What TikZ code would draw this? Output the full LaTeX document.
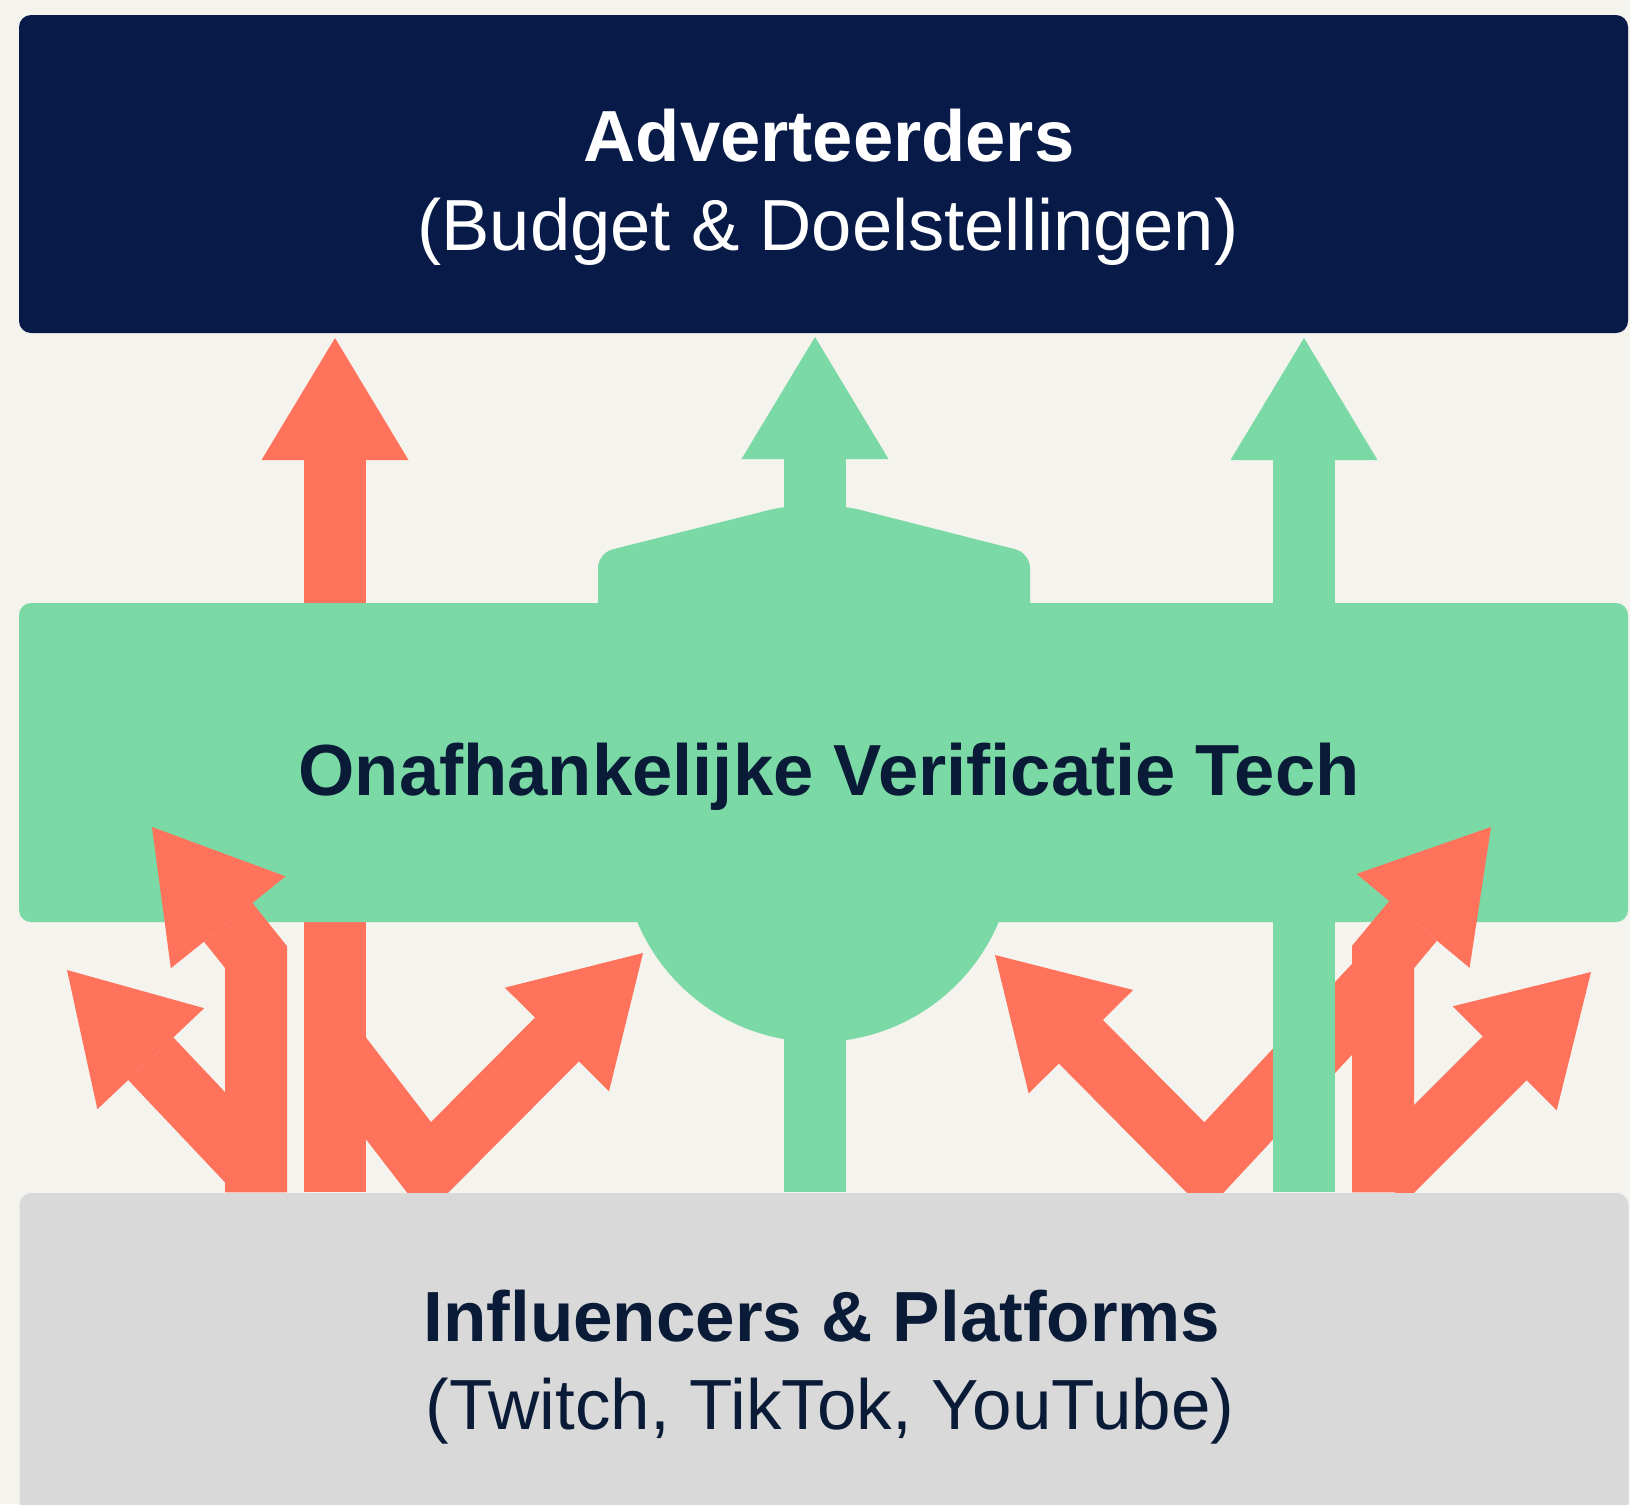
\documentclass[tikz,border=0pt]{standalone}
\usepackage{fontspec}
\setmainfont{Liberation Sans}
\usetikzlibrary{arrows.meta,positioning}
\definecolor{paper}{RGB}{244,243,238}
\definecolor{advnavy}{RGB}{8,26,72}
\definecolor{verifgreen}{RGB}{122,217,165}
\definecolor{flowred}{RGB}{255,115,92}
\definecolor{platgray}{RGB}{217,217,217}
\definecolor{inkblue}{RGB}{10,27,55}
\pgfdeclarelayer{front}
\pgfsetlayers{main,front}

\begin{document}
\begin{tikzpicture}[
  x=0.1mm, y=-0.1mm,
  >={Triangle[width=14.7mm, length=12.2mm, line width=0pt]},
  panel/.style={rectangle, rounded corners=1.2mm, inner sep=0pt,
    minimum width=160.9mm, minimum height=31.8mm},
  title/.style={font=\fontsize{20.6}{24}\selectfont\bfseries,
    anchor=base, inner sep=0pt},
  sub/.style={font=\fontsize{20.6}{24}\selectfont,
    anchor=base, inner sep=0pt},
  flow/.style={->, line width=6.2mm, line join=miter}
]
\useasboundingbox (0,0) rectangle (1630,1504);
\fill[paper] (0,0) rectangle (1630,1504);

\begin{pgfonlayer}{front}
\node[panel, fill=platgray, minimum height=33.7mm] (infl) at (824,1361.5) {};
\node[title, text=inkblue, font=\fontsize{20.2}{24}\selectfont\bfseries]
  (infltitle) at (822,1341) {Influencers \& Platforms};
\node[sub, text=inkblue, font=\fontsize{20.2}{24}\selectfont]
  (inflsub) at (830,1429) {(Twitch, TikTok, YouTube)};
\end{pgfonlayer}

\node[panel, fill=advnavy] (adv) at (823.5,174) {};
\node[title, text=white] (advtitle) at (829,161) {Adverteerders};
\node[sub, text=white] (advsub) at (828,250) {(Budget \& Doelstellingen)};

\coordinate (tipC) at (335,338);
\coordinate (tipM) at (815,337);
\coordinate (tipR) at (1304,338);
\coordinate (bendA) at (256,957);
\coordinate (tipA) at (152,827);
\coordinate (forkB) at (256,1170);
\coordinate (tipB) at (67,970);
\coordinate (forkD) at (335,1048);
\coordinate (dipD) at (428,1169);
\coordinate (tipD) at (643,953);
\coordinate (forkE) at (1383,976);
\coordinate (dipE) at (1205,1167);
\coordinate (tipE) at (995,955);
\coordinate (bendG) at (1383,957);
\coordinate (tipG) at (1491,827);
\coordinate (forkH) at (1383,1180);
\coordinate (tipH) at (1591,972);

\draw[flow, flowred] (infl.north -| tipC) -- (tipC);

\node[panel, fill=verifgreen, minimum height=31.9mm] (verif) at (823.5,762.5) {};
\fill[verifgreen, rounded corners=1.5mm]
  (598,640) -- (598,553) -- (785,506) -- (845,506) -- (1030,553)
  -- (1030,640) -- cycle;
\fill[verifgreen] (818,846) circle[radius=19.6mm];

\draw[flow, flowred] (forkE) -- (dipE) -- (tipE);
\draw[flow, verifgreen] (infl.north -| tipM) -- (tipM);
\draw[flow, verifgreen] (infl.north -| tipR) -- (tipR);

\node[title, text=inkblue] (veriftitle) at (829,795)
  {Onafhankelijke Verificatie Tech};

\draw[flow, flowred] (infl.north -| bendA) -- (bendA) -- (tipA);
\draw[flow, flowred] (forkB) -- (tipB);
\draw[flow, flowred] (forkD) -- (dipD) -- (tipD);
\draw[flow, flowred] (infl.north -| bendG) -- (bendG) -- (tipG);
\draw[flow, flowred] (forkH) -- (tipH);
\end{tikzpicture}
\end{document}
